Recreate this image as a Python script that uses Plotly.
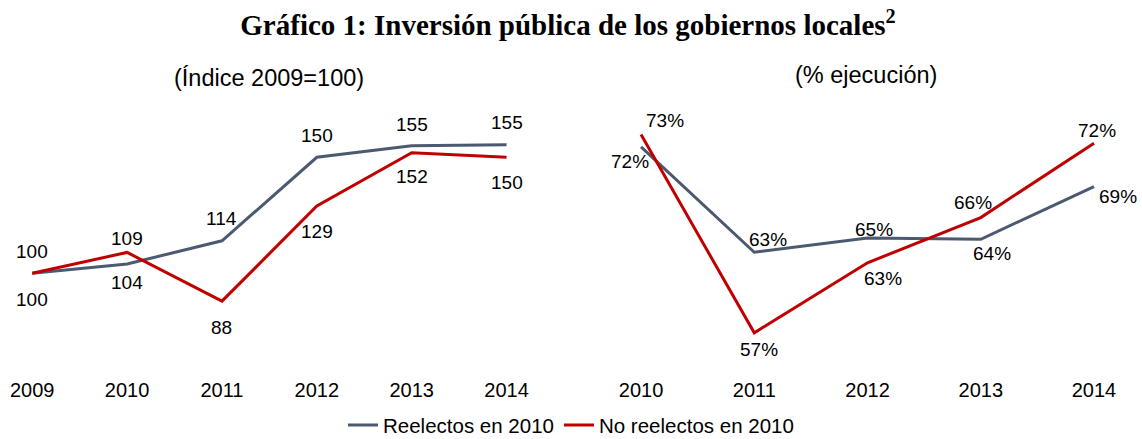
import plotly.graph_objects as go

# ---------------- data ----------------
years_index = [2009, 2010, 2011, 2012, 2013, 2014]
index_reelectos = [100, 104, 114, 150, 155, 155.4]
index_no_reelectos = [100, 109, 88, 129, 152, 150]

years_exec = [2010, 2011, 2012, 2013, 2014]
exec_reelectos = [71.9, 63.4, 64.55, 64.45, 68.7]
exec_no_reelectos = [72.9, 56.9, 62.55, 66.2, 72.2]

series_names = ["Reelectos en 2010", "No reelectos en 2010"]
title_text = "Gráfico 1: Inversión pública de los gobiernos locales<sup>2</sup>"
subtitle_left = "(Índice 2009=100)"
subtitle_right = "(% ejecución)"

# ---------------- style ----------------
BLUE = "#4B5A70"
RED = "#C00000"
SANS = "Liberation Sans, Arial, sans-serif"
SERIF = "Liberation Serif, Times New Roman, serif"
FS_LABEL = 19
FS_TICK = 20
FS_LEGEND = 20.5
FS_SUB = 23.5
W, H = 1142, 439

# label offsets (pixels) for each data label: (xshift, yshift)
off_idx_blue = [(0, -26), (0, -18), (0, 22), (0, 22), (0, 21), (0, 22)]
off_idx_red = [(0, 22), (0, 14), (0, -26), (0, -25), (0, -24), (0, -25)]
off_exe_blue = [(-11, -15), (14, 13), (6, 9), (11, -14), (24, -10)]
off_exe_red = [(24, 14), (5, -17), (15, -16), (-8, 15), (3, 13)]

fig = go.Figure()

fig.add_trace(go.Scatter(x=years_index, y=index_reelectos, mode="lines",
                         line=dict(color=BLUE, width=3), name=series_names[0],
                         xaxis="x", yaxis="y", legendgroup="a"))
fig.add_trace(go.Scatter(x=years_index, y=index_no_reelectos, mode="lines",
                         line=dict(color=RED, width=3), name=series_names[1],
                         xaxis="x", yaxis="y", legendgroup="b"))
fig.add_trace(go.Scatter(x=years_exec, y=exec_reelectos, mode="lines",
                         line=dict(color=BLUE, width=3), name=series_names[0],
                         xaxis="x2", yaxis="y2", showlegend=False, legendgroup="a"))
fig.add_trace(go.Scatter(x=years_exec, y=exec_no_reelectos, mode="lines",
                         line=dict(color=RED, width=3), name=series_names[1],
                         xaxis="x2", yaxis="y2", showlegend=False, legendgroup="b"))

annotations = []


def add_labels(xs, ys, offs, xref, yref, suffix=""):
    for x, y, (dx, dy) in zip(xs, ys, offs):
        annotations.append(dict(x=x, y=y, xref=xref, yref=yref,
                                xanchor="center", yanchor="middle",
                                text=f"{y:.0f}{suffix}", showarrow=False,
                                xshift=dx, yshift=dy,
                                font=dict(family=SANS, size=FS_LABEL, color="#000000")))


add_labels(years_index, index_reelectos, off_idx_blue, "x", "y")
add_labels(years_index, index_no_reelectos, off_idx_red, "x", "y")
add_labels(years_exec, exec_reelectos, off_exe_blue, "x2", "y2", "%")
add_labels(years_exec, exec_no_reelectos, off_exe_red, "x2", "y2", "%")

annotations.append(dict(x=269 / W, y=1 - 78 / H, xref="paper", yref="paper",
                        xanchor="center", yanchor="middle",
                        text=subtitle_left, showarrow=False,
                        font=dict(family=SANS, size=FS_SUB, color="#000000")))
annotations.append(dict(x=866 / W, y=1 - 75 / H, xref="paper", yref="paper",
                        xanchor="center", yanchor="middle",
                        text=subtitle_right, showarrow=False,
                        font=dict(family=SANS, size=FS_SUB, color="#000000")))

ydom = [1 - 376 / H, 1 - 100 / H]

fig.update_layout(
    width=W, height=H,
    margin=dict(l=0, r=0, t=0, b=0, autoexpand=False),
    paper_bgcolor="white", plot_bgcolor="white",
    title=dict(text=title_text, x=568 / W, xanchor="center",
               y=1 - 25 / H, yanchor="middle", yref="container",
               font=dict(family=SERIF, size=29, color="#000000", weight="bold")),
    xaxis=dict(domain=[0, 554 / W], range=[2008.66, 2014.5], tickvals=years_index,
               ticktext=[str(y) for y in years_index], showgrid=False, zeroline=False,
               showline=False, ticks="", tickfont=dict(family=SANS, size=FS_TICK, color="#000000"),
               anchor="y"),
    yaxis=dict(domain=ydom, range=[55.73, 174.7], visible=False, anchor="x"),
    xaxis2=dict(domain=[584.4 / W, 1139.3 / W], range=[2009.5, 2014.4], tickvals=years_exec,
                ticktext=[str(y) for y in years_exec], showgrid=False, zeroline=False,
                showline=False, ticks="", tickfont=dict(family=SANS, size=FS_TICK, color="#000000"),
                anchor="y2"),
    yaxis2=dict(domain=ydom, range=[53.42, 75.68], visible=False, anchor="x2"),
    legend=dict(orientation="h", x=0.5, xanchor="center", y=-0.014, yanchor="bottom",
                font=dict(family=SANS, size=FS_LEGEND, color="#000000"),
                bgcolor="rgba(0,0,0,0)", itemwidth=30),
    annotations=annotations,
    showlegend=True,
)

fig.write_html("out.html", config={"displayModeBar": False},
               post_script="document.body.style.margin='0';document.body.style.overflow='hidden';")
